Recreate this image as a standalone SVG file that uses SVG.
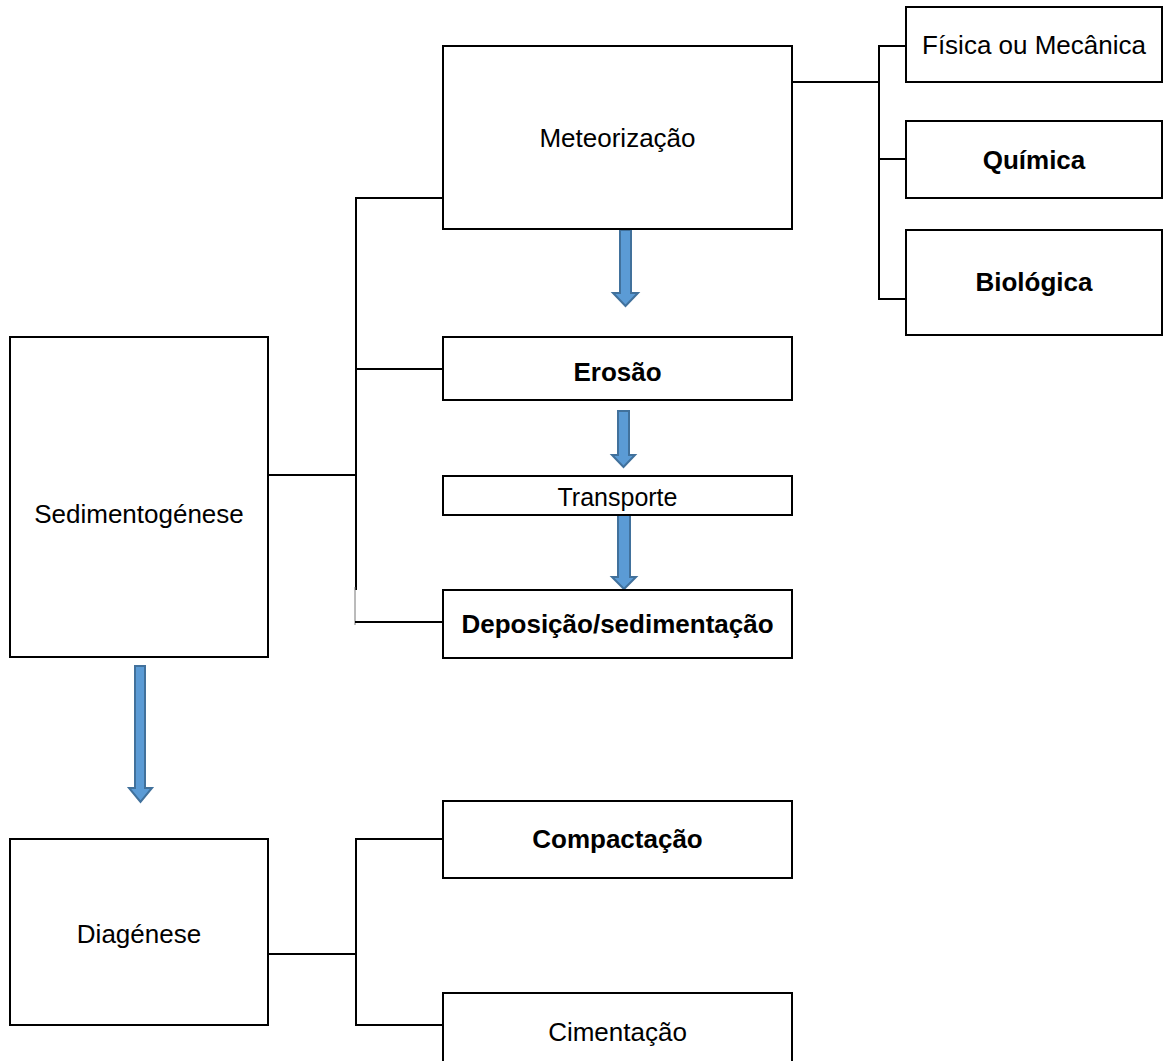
<svg xmlns="http://www.w3.org/2000/svg" width="1166" height="1061" viewBox="0 0 1166 1061">
  <style>
    .box { fill: #ffffff; stroke: #000000; stroke-width: 2; }
    .lbl { font-family: "Liberation Sans", Arial, sans-serif; font-size: 26px; fill: #000000; text-anchor: middle; }
    .b { font-weight: bold; }
    .wire { fill: none; stroke: #000000; stroke-width: 2; }
    .thin { fill: none; stroke: #777777; stroke-width: 1; }
    .flow { fill: #5B9BD5; stroke: #41719C; stroke-width: 2; stroke-linejoin: miter; }
  </style>
  <rect width="1166" height="1061" fill="#ffffff"/>

  <!-- tree connectors -->
  <g id="connectors">
    <!-- Sedimentogénese branch -->
    <polyline class="wire" points="443,198 356,198 356,590"/>
    <line class="wire" x1="356" y1="369" x2="443" y2="369"/>
    <line class="wire" x1="268" y1="475" x2="356" y2="475"/>
    <line class="thin" x1="355" y1="587" x2="355" y2="625"/>
    <line class="wire" x1="355" y1="622" x2="443" y2="622"/>
    <!-- Meteorização branch -->
    <line class="wire" x1="792" y1="82" x2="879" y2="82"/>
    <polyline class="wire" points="906,46 879,46 879,299 906,299"/>
    <line class="wire" x1="879" y1="159" x2="906" y2="159"/>
    <!-- Diagénese branch -->
    <line class="wire" x1="268" y1="954" x2="356" y2="954"/>
    <polyline class="wire" points="443,839 356,839 356,1025 443,1025"/>
    <!-- block arrows -->
    <path class="flow" d="M620,230 H631 V293 H638 L625.5,306 L613,293 H620 Z"/>
    <path class="flow" d="M618,411 H629 V455 H635 L623.5,467 L612,455 H618 Z"/>
    <path class="flow" d="M618,515 H630 V577 H636 L624,589 L612,577 H618 Z"/>
    <path class="flow" d="M135,666 H145 V788 H152 L140.5,802 L129,788 H135 Z"/>
  </g>

  <g id="meteorizacao">
    <rect class="box" x="443" y="46" width="349" height="183"/>
    <text class="lbl" x="617.5" y="147">Meteorização</text>
  </g>
  <g id="fisica">
    <rect class="box" x="906" y="7" width="256" height="75"/>
    <text class="lbl" x="1034" y="54">Física ou Mecânica</text>
  </g>
  <g id="quimica">
    <rect class="box" x="906" y="121" width="256" height="77"/>
    <text class="lbl b" x="1034" y="169">Química</text>
  </g>
  <g id="biologica">
    <rect class="box" x="906" y="230" width="256" height="105"/>
    <text class="lbl b" x="1034" y="291">Biológica</text>
  </g>
  <g id="erosao">
    <rect class="box" x="443" y="337" width="349" height="63"/>
    <text class="lbl b" x="617.5" y="381">Erosão</text>
  </g>
  <g id="transporte">
    <rect class="box" x="443" y="476" width="349" height="39"/>
    <text class="lbl" x="617.5" y="506" style="font-size:25px">Transporte</text>
  </g>
  <g id="deposicao">
    <rect class="box" x="443" y="590" width="349" height="68"/>
    <text class="lbl b" x="617.5" y="633">Deposição/sedimentação</text>
  </g>
  <g id="sedimentogenese">
    <rect class="box" x="10" y="337" width="258" height="320"/>
    <text class="lbl" x="139" y="523">Sedimentogénese</text>
  </g>
  <g id="diagenese">
    <rect class="box" x="10" y="839" width="258" height="186"/>
    <text class="lbl" x="139" y="943">Diagénese</text>
  </g>
  <g id="compactacao">
    <rect class="box" x="443" y="801" width="349" height="77"/>
    <text class="lbl b" x="617.5" y="848">Compactação</text>
  </g>
  <g id="cimentacao">
    <rect class="box" x="443" y="993" width="349" height="75"/>
    <text class="lbl" x="617.5" y="1041">Cimentação</text>
  </g>
</svg>
